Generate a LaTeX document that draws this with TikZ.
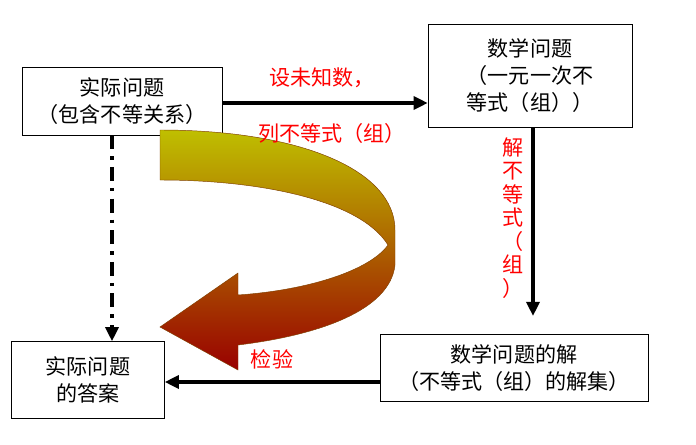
\documentclass[tikz,border=0pt]{standalone}
\usepackage{fontspec}
\setmainfont{Noto Sans CJK SC}
\usetikzlibrary{arrows.meta}
\begin{document}
\begin{tikzpicture}[x=0.03cm,y=-0.03cm,
 box/.style={draw,thin,inner sep=0pt,align=center,font=\fontsize{18}{23}\selectfont},
 arr/.style={line width=3pt,-{Triangle[length=12pt,width=11pt]}},
 lbl/.style={text=red,font=\fontsize{18}{23}\selectfont,align=center}]
\useasboundingbox (0,0) rectangle (696,444);
\node[box,minimum width=200*0.03cm,minimum height=68*0.03cm] (A) at (122,101) {实际问题\\（包含不等关系）};
\node[box,minimum width=204*0.03cm,minimum height=103*0.03cm] (B) at (530,76) {数学问题\\（一元一次不\\等式（组））};
\node[box,minimum width=268*0.03cm,minimum height=67*0.03cm] (C) at (514,368) {数学问题的解\\（不等式（组）的解集）};
\node[box,minimum width=153*0.03cm,minimum height=77*0.03cm] (D) at (88,380) {实际问题\\的答案};
\shade[top color=yellow!75!black, middle color=orange!90!red, bottom color=red!60!black, draw=orange!50!black, thin]
 (160,130) .. controls (300,130) and (395,170) .. (395,230) -- (395,265)
 .. controls (390,310) and (320,335) .. (238,345)
 -- (238,370) -- (160,327) -- (238,273) -- (238,295)
 .. controls (310,290) and (370,270) .. (388,245)
 .. controls (360,200) and (260,180) .. (160,180) -- cycle;
\draw[arr] (A.east |- 0,103) -- (B.west |- 0,103);
\node[lbl] (l1) at (322,78) {设未知数，};
\node[lbl] (l2) at (332,133) {列不等式（组）};
\draw[arr] (B.south -| 533,0) -- (533,316);
\node[lbl,font=\fontsize{18}{20}\selectfont,text width=1em] (l3) at (508,218) {解\\不\\等\\式\\（\\组\\）};
\draw[arr] (C.west |- 0,382) -- (D.east |- 0,382);
\node[lbl] (l4) at (272,359) {检验};
\draw[line width=3pt,dash pattern=on 12pt off 6pt on 3pt off 6pt,-{Triangle[length=12pt,width=11pt]}] (A.south -| 112,0) -- (D.north -| 112,0);
\end{tikzpicture}
\end{document}
